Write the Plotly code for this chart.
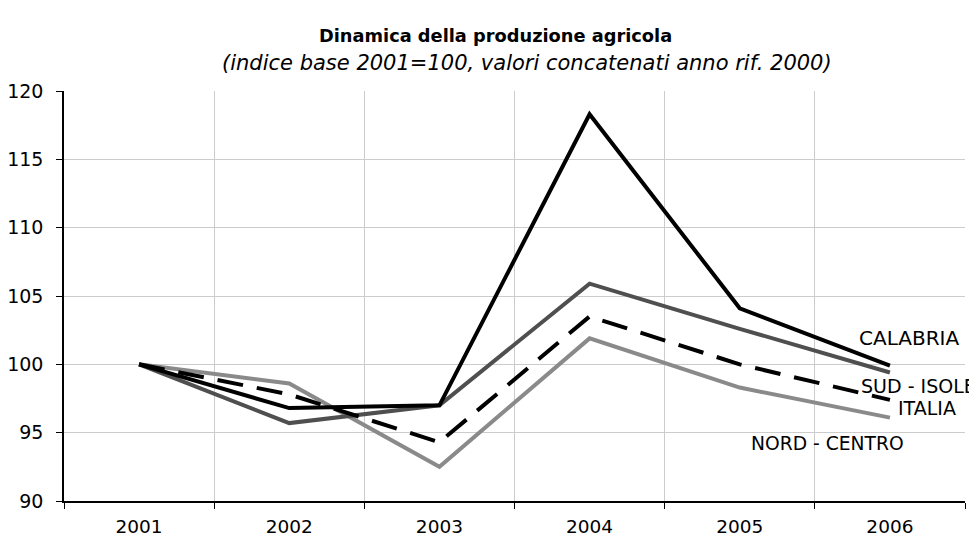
import plotly.graph_objects as go

years = ["2001", "2002", "2003", "2004", "2005", "2006"]
calabria = [100.0, 96.8, 97.0, 118.3, 104.1, 99.9]
sud_isole = [100.0, 95.7, 97.0, 105.9, 102.6, 99.4]
italia = [100.0, 97.8, 94.3, 103.5, 100.0, 97.4]
nord_centro = [100.0, 98.6, 92.5, 101.9, 98.3, 96.1]
y_ticks = [90, 95, 100, 105, 110, 115, 120]

FONT = "DejaVu Sans"
OFF = 8  # page body margin
W, H = 977 - OFF, 545 - OFF
# plot area in page pixel coordinates
L, R, T, B = 64, 965, 91, 501

fig = go.Figure()
fig.add_trace(go.Scatter(x=years, y=nord_centro, mode="lines", name="NORD - CENTRO",
                         line=dict(color="#8a8a8a", width=4)))
fig.add_trace(go.Scatter(x=years, y=sud_isole, mode="lines", name="SUD - ISOLE",
                         line=dict(color="#4f4f4f", width=4)))
fig.add_trace(go.Scatter(x=years, y=italia, mode="lines", name="ITALIA",
                         line=dict(color="black", width=4, dash="26px,14px")))
fig.add_trace(go.Scatter(x=years, y=calabria, mode="lines", name="CALABRIA",
                         line=dict(color="black", width=4)))

def px(x):
    return (x - L) / (R - L)

def py(y):
    return (B - y) / (B - T)

anns = [
    dict(text="<b>Dinamica della produzione agricola</b>", x=px(495), y=py(35), size=17.8),
    dict(text="<i>(indice base 2001=100, valori concatenati anno rif. 2000)</i>", x=px(527), y=py(63), size=21),
    dict(text="CALABRIA", x=px(909), y=py(338), size=20),
    dict(text="SUD - ISOLE", x=px(918), y=py(386), size=19),
    dict(text="ITALIA", x=px(927), y=py(408), size=19),
    dict(text="NORD - CENTRO", x=px(827), y=py(443), size=18.7),
]
for a in anns:
    fig.add_annotation(text=a["text"], x=a["x"], y=a["y"], xref="paper", yref="paper",
                       xanchor="center", yanchor="middle", showarrow=False,
                       font=dict(family=FONT, size=a["size"], color="black"))

fig.update_layout(
    width=W, height=H,
    margin=dict(l=L - OFF, r=W - (R - OFF), t=T - OFF, b=H - (B - OFF), pad=0,
                autoexpand=False),
    paper_bgcolor="white", plot_bgcolor="white",
    showlegend=False,
    font=dict(family=FONT, size=18.5, color="black"),
)
fig.update_xaxes(type="category", range=[-0.5, 5.5], tickson="boundaries",
                 showgrid=True, gridcolor="#cccccc", gridwidth=1,
                 showline=True, linecolor="black", linewidth=1.5,
                 ticks="outside", ticklen=6, tickcolor="black",
                 ticklabelstandoff=8, automargin=False,
                 tickfont=dict(family=FONT, size=18.5), zeroline=False)
fig.update_yaxes(range=[90, 120], tickvals=y_ticks,
                 showgrid=True, gridcolor="#cccccc", gridwidth=1,
                 showline=True, linecolor="black", linewidth=1.5,
                 ticks="outside", ticklen=6, tickcolor="black",
                 ticklabelstandoff=9, automargin=False,
                 tickfont=dict(family=FONT, size=19), zeroline=False)

fig.write_html("out.html")
